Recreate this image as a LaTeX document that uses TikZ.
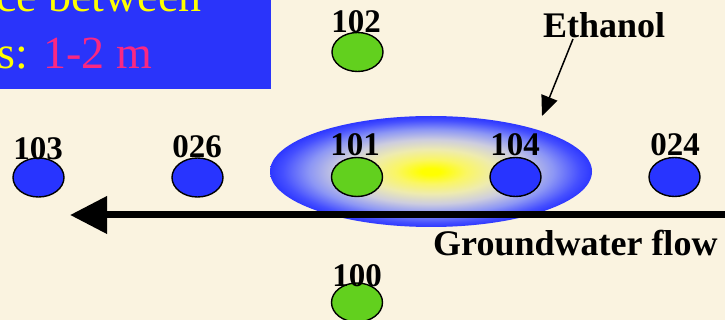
\documentclass[tikz,border=0pt]{standalone}
\usepackage{fontspec}
\setmainfont{Liberation Serif}
\usetikzlibrary{shapes.geometric,arrows.meta}
\definecolor{paper}{RGB}{250,243,224}
\definecolor{boxblue}{RGB}{42,52,250}
\definecolor{wellblue}{RGB}{40,52,255}
\definecolor{wellgreen}{RGB}{98,208,30}
\definecolor{txtyellow}{RGB}{255,255,0}
\definecolor{txtpink}{RGB}{250,40,130}
\definecolor{pA}{RGB}{255,255,0}
\definecolor{pB}{RGB}{250,246,100}
\definecolor{pC}{RGB}{238,235,175}
\definecolor{pD}{RGB}{205,205,222}
\definecolor{pE}{RGB}{140,150,245}
\definecolor{pF}{RGB}{70,80,255}
\definecolor{pG}{RGB}{45,55,255}
\pgfdeclareradialshading{plume}{\pgfpoint{0bp}{0bp}}{color(0bp)=(pA); color(1.5bp)=(pA); color(5.5bp)=(pB); color(10bp)=(pC); color(14.5bp)=(pD); color(19bp)=(pE); color(23bp)=(pF); color(25bp)=(pG); color(50bp)=(pG)}
\tikzset{
  well/.style={ellipse, draw=black, line width=1.4pt, minimum width=51pt, minimum height=39pt, inner sep=0pt},
  gwell/.style={well, fill=wellgreen},
  bwell/.style={well, fill=wellblue},
  lbl/.style={anchor=base, inner sep=0pt, font=\fontsize{33}{38}\selectfont\bfseries},
  bigtxt/.style={anchor=base east, inner sep=0pt, font=\fontsize{46}{55}\selectfont},
  caption/.style={anchor=base west, inner sep=0pt, font=\fontsize{36}{42}\selectfont\bfseries}
}
\begin{document}
\begin{tikzpicture}[x=1pt,y=-1pt]
\useasboundingbox (0,0) rectangle (725,320);
\fill[paper] (0,0) rectangle (725,320);
% info box
\begin{scope}
  \clip (0,0) rectangle (271,89);
  \fill[boxblue] (0,0) rectangle (271,89);
  \node[bigtxt, text=txtyellow] (t1) at (202,12) {ce between};
  \node[bigtxt, text=txtyellow] (t2) at (152,69) {s: \textcolor{txtpink}{1-2 m}};
\end{scope}
% plume
\node[ellipse, minimum width=322pt, minimum height=111pt, inner sep=0pt, shading=plume] (plume) at (431,171.5) {};
% wells
\node[gwell] (w102) at (357.5,52) {};
\node[bwell] (w103) at (38.5,177.5) {};
\node[bwell] (w026) at (197.5,177.5) {};
\node[gwell] (w101) at (357,177) {};
\node[bwell] (w104) at (515.5,177) {};
\node[bwell] (w024) at (674.5,177) {};
\node[gwell] (w100) at (357,302.5) {};
% labels
\node[lbl] (l102) at (356,33) {102};
\node[lbl] (l103) at (38,160) {103};
\node[lbl] (l026) at (197,158) {026};
\node[lbl] (l101) at (355,156) {101};
\node[lbl] (l104) at (515,156) {104};
\node[lbl] (l024) at (675,156) {024};
\node[lbl] (l100) at (357,287) {100};
% groundwater flow arrow
\coordinate (gwR) at (735,215);
\coordinate (gwL) at (70,215);
\draw[line width=7pt, -{Triangle[length=37pt,width=36pt]}] (gwR) -- (gwL);
\node[caption] (gw) at (433,256) {Groundwater flow};
% ethanol
\node[caption] (eth) at (543,38) {Ethanol};
\coordinate (ethS) at (573,39);
\coordinate (ethT) at (542,116);
\draw[line width=1.5pt, -{Triangle[length=20pt,width=17pt]}] (ethS) -- (ethT);
\end{tikzpicture}
\end{document}
